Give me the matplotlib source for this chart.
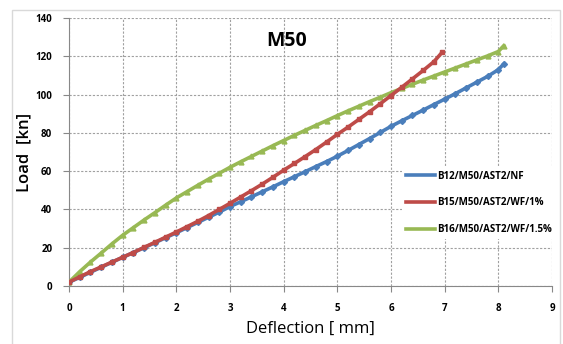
import matplotlib.pyplot as plt
from matplotlib.patches import Rectangle

# deflection (mm) / load (kN)
x_blue = [0.0, 0.2, 0.4, 0.6, 0.8, 1.0, 1.2, 1.4, 1.6, 1.8, 2.0, 2.2, 2.4, 2.6, 2.8,
          3.0, 3.2, 3.4, 3.6, 3.8, 4.0, 4.2, 4.4, 4.6, 4.8, 5.0, 5.2, 5.4, 5.6, 5.8,
          6.0, 6.2, 6.4, 6.6, 6.8, 7.0, 7.2, 7.4, 7.6, 7.8, 8.0, 8.1]
y_blue = [2, 4.5, 7.2, 9.8, 12.4, 15, 17.5, 20, 22.6, 25.2, 27.8, 30.5, 33.2, 35.9, 38.6,
          41.5, 44, 46.6, 49.2, 51.8, 54.5, 57.1, 59.7, 62.4, 65, 67.8, 70.8, 73.9, 77, 80.2,
          83.4, 86.3, 89.1, 91.9, 94.8, 97.6, 100.5, 103.5, 106.5, 109.5, 113, 116]

x_red = [0.0, 0.2, 0.4, 0.6, 0.8, 1.0, 1.2, 1.4, 1.6, 1.8, 2.0, 2.2, 2.4, 2.6, 2.8,
         3.0, 3.2, 3.4, 3.6, 3.8, 4.0, 4.2, 4.4, 4.6, 4.8, 5.0, 5.2, 5.4, 5.6, 5.8,
         6.0, 6.2, 6.4, 6.6, 6.8, 6.95]
y_red = [2, 4.8, 7.5, 10, 12.5, 15, 17.5, 20.2, 22.8, 25.5, 28.2, 31, 33.8, 36.8, 40,
         43.2, 46.5, 49.8, 53.2, 56.8, 60.5, 64, 67.6, 71.3, 75.2, 79.2, 83, 87, 91, 95.2,
         99.5, 103.8, 108.2, 112.6, 117.2, 122]

x_green = [0.0, 0.2, 0.4, 0.6, 0.8, 1.0, 1.2, 1.4, 1.6, 1.8, 2.0, 2.2, 2.4, 2.6, 2.8,
           3.0, 3.2, 3.4, 3.6, 3.8, 4.0, 4.2, 4.4, 4.6, 4.8, 5.0, 5.2, 5.4, 5.6, 5.8,
           6.0, 6.2, 6.4, 6.6, 6.8, 7.0, 7.2, 7.4, 7.6, 7.8, 8.0, 8.1]
y_green = [2, 7.5, 12.5, 17.2, 22, 26.5, 30.5, 34.5, 38.3, 42.2, 46, 49.3, 52.6, 55.8, 58.9,
           62, 64.9, 67.7, 70.5, 73.3, 76, 78.7, 81.3, 83.9, 86.4, 89, 91.5, 93.9, 96.3, 98.6,
           101, 103.2, 105.4, 107.6, 109.7, 111.8, 113.9, 116, 118.1, 120.2, 122.5, 125.5]

labels = ["B12/M50/AST2/NF", "B15/M50/AST2/WF/1%", "B16/M50/AST2/WF/1.5%"]
colors = ["#4a7ebb", "#be4b48", "#98b954"]

plt.rcParams['font.family'] = ['Open Sans', 'DejaVu Sans']

fig = plt.figure(figsize=(5.63, 3.44), dpi=100)
fig.patches.append(Rectangle((12 / 563, -0.05), 548 / 563, 1 - 10 / 344 + 0.05,
                             transform=fig.transFigure, fill=False,
                             edgecolor="#d9d9d9", linewidth=1.0))
ax = fig.add_axes([69 / 563, 1 - 286 / 344, 483 / 563, 268 / 344])

ax.plot(x_blue, y_blue, color=colors[0], linewidth=2.6, marker="D", markersize=3,
        label=labels[0], zorder=3)
ax.plot(x_red, y_red, color=colors[1], linewidth=2.6, marker="s", markersize=3.5,
        label=labels[1], zorder=4)
ax.plot(x_green, y_green, color=colors[2], linewidth=2.6, marker="^", markersize=3.5,
        label=labels[2], zorder=3)

ax.set_xlim(0, 9)
ax.set_ylim(0, 140)
ax.set_xticks(range(0, 10))
ax.set_yticks(range(0, 141, 20))
ax.tick_params(labelsize=7, length=4, color="#888888", pad=8)
for lab in ax.get_xticklabels() + ax.get_yticklabels():
    lab.set_fontweight("bold")
ax.grid(color="#a0a0a0", linestyle=(0, (2, 1.5)), linewidth=0.8)
for side in ("top", "right"):
    ax.spines[side].set_visible(False)
for side in ("left", "bottom"):
    ax.spines[side].set_color("#888888")

ax.set_xlabel("Deflection [ mm]", fontsize=12, labelpad=5)
ax.set_ylabel("Load  [kn]", fontsize=12, fontweight="semibold", labelpad=2)
ax.text(4.05, 128, "M50", fontsize=14, fontweight="bold", ha="center", va="center")

leg = ax.legend(loc="center right", bbox_to_anchor=(1.01, 0.31), frameon=True,
                fontsize=7, handlelength=3, handletextpad=0.2, labelspacing=1.6,
                borderaxespad=0.1)
leg.get_frame().set_edgecolor("none")
leg.get_frame().set_facecolor("white")
leg.get_frame().set_alpha(1.0)
for t in leg.get_texts():
    t.set_fontweight("bold")
for h in leg.legend_handles:
    h.set_marker("")

fig.savefig("out.png", dpi=100)
